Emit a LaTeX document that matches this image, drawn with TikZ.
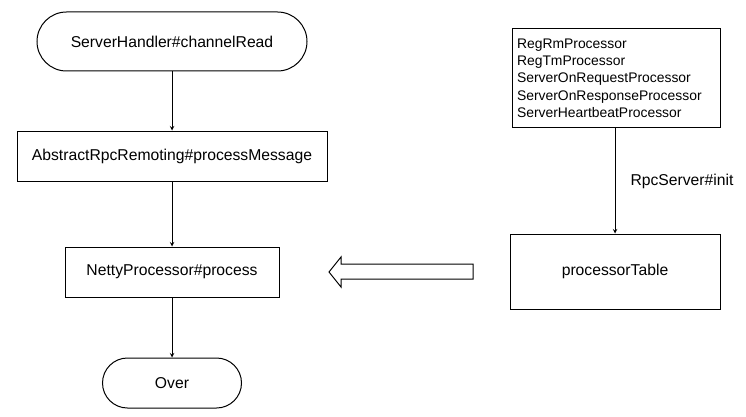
\documentclass[tikz,border=0pt]{standalone}
\usepackage{fontspec}
\setmainfont{Liberation Sans}
\tikzset{>=stealth}
\usetikzlibrary{positioning}

\begin{document}
\begin{tikzpicture}[x=1pt,y=-1pt,line width=1pt,
    every node/.style={font=\fontsize{15.7}{19}\selectfont,inner sep=0pt},
    term/.style={draw,minimum height=2*#1,rounded corners=#1},
    stepbox/.style={draw}]
		\useasboundingbox (0,0) rectangle (746,417);
		% left column
		\node[term=29.5,minimum width=270] (read) at (172,41.5) {ServerHandler\#channelRead};
		\node[stepbox,minimum width=310,minimum height=50] (msg) at (172,156) {AbstractRpcRemoting\#processMessage};
		\node[stepbox,minimum width=214,minimum height=50] (proc) at (172,272) {NettyProcessor\#process};
		\node[term=25,minimum width=139] (over) at (172,383) {Over};
		\draw[->] (read) -- (msg);
		\draw[->] (msg) -- (proc);
		\draw[->] (proc) -- (over);
		% right column
		\node[stepbox,minimum height=98,text width=198,inner xsep=5pt,align=left,
		  font=\fontsize{13.9}{17.3}\selectfont] (list) at (616,78)
		  {RegRmProcessor\\RegTmProcessor\\ServerOnRequestProcessor\\ServerOnResponseProcessor\\ServerHeartbeatProcessor};
		\node[stepbox,minimum width=210,minimum height=75] (table) at (615,271.5) {processorTable};
		\draw[->] (list.south-|table) -- (table);
		\node[anchor=west] (init) at (630,181) {RpcServer\#init};
		% hollow arrow
		\coordinate (tip) at (329,272);
		\draw (tip) -- (341,257) -- (341,264) -- (473,264) -- (473,279)
		  -- (341,279) -- (341,287) -- cycle;
\end{tikzpicture}
\end{document}
